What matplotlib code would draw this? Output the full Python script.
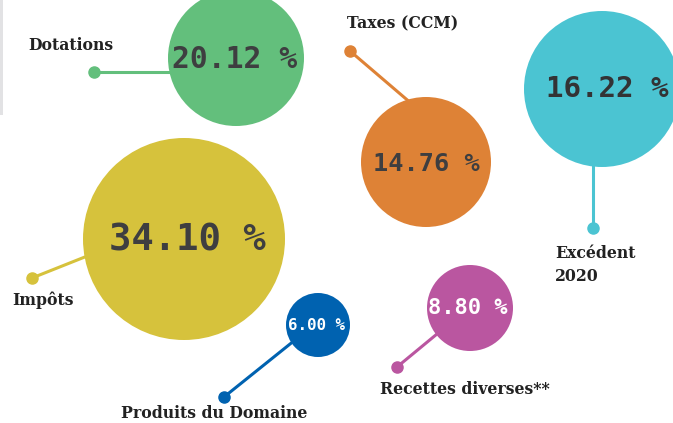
import matplotlib
matplotlib.use("Agg")
import matplotlib.pyplot as plt
from matplotlib.patches import Circle, Rectangle

# ---- data ----
labels = ["Dotations", "Taxes (CCM)", "Excédent\n2020", "Impôts",
          "Produits du Domaine", "Recettes diverses**"]
values = [20.12, 14.76, 16.22, 34.10, 6.00, 8.80]
colors = ["#63BF7C", "#DE8236", "#4BC4D2", "#D6C23C", "#0062B0", "#BA56A0"]
value_colors = ["#3E3E40", "#3E3E40", "#333335", "#3E3E40", "#FFFFFF", "#FFFFFF"]

# ---- layout (pixel coordinates) ----
centers = [(236, 58), (426, 162), (602, 89), (184, 239), (318, 325), (470, 308)]
radii = [68, 65, 78, 101, 32, 43]
value_sizes = [21.4, 18.2, 21.0, 26.8, 11.4, 15.8]
value_offsets = [(-1, 1), (0, 2), (5, 0), (3, 1), (-1, 1), (-2, 0)]
dots = [(94, 72), (350, 51), (593, 228), (32, 278), (224, 397), (397, 367)]
anchors = [(200, 72), (426, 116), (593, 150), (120, 243), (310, 328), (460, 315)]
label_pos = [(71, 46), (403, 24), (555, 265), (43, 300), (214, 413), (465, 389)]
label_ha = ["center", "center", "left", "center", "center", "center"]

W, H = 673, 423
fig = plt.figure(figsize=(W / 100, H / 100), dpi=100)
ax = fig.add_axes([0, 0, 1, 1])
ax.set_xlim(0, W)
ax.set_ylim(H, 0)
ax.axis("off")

ax.add_patch(Rectangle((0, 0), 3, 115, color="#E2E2E4", lw=0, zorder=0))

for i in range(len(values)):
    cx, cy = centers[i]
    dx, dy = dots[i]
    axx, ayy = anchors[i]
    ax.plot([dx, axx], [dy, ayy], color=colors[i], lw=2.2, zorder=1,
            solid_capstyle="butt")
    ax.plot([dx], [dy], "o", color=colors[i], ms=8, zorder=2)
    ax.add_patch(Circle((cx, cy), radii[i], color=colors[i], lw=0, zorder=3))
    ox, oy = value_offsets[i]
    ax.text(cx + ox, cy + oy, f"{values[i]:.2f} %", ha="center", va="center",
            fontsize=value_sizes[i], fontweight="bold",
            family="DejaVu Sans Mono", color=value_colors[i], zorder=4)
    lx, ly = label_pos[i]
    ax.text(lx, ly, labels[i], ha=label_ha[i], va="center", fontsize=11.3,
            fontweight="bold", family="DejaVu Serif", color="#222222",
            linespacing=1.5, zorder=5)

fig.savefig("out.png", dpi=100)
